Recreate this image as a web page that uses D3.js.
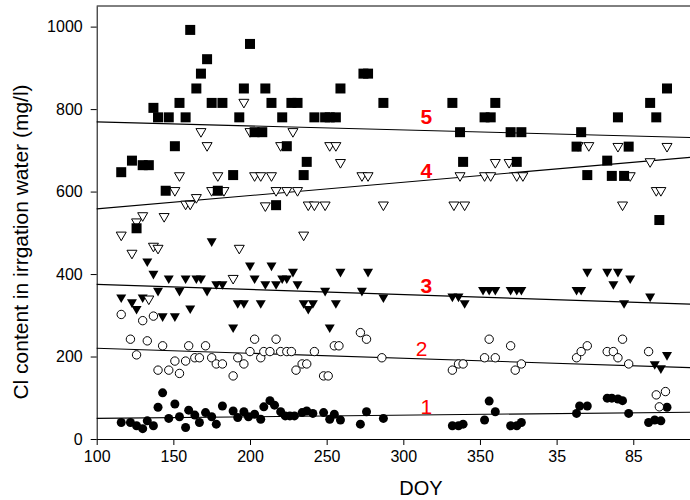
<!DOCTYPE html>
<html>
<head>
<meta charset="utf-8">
<script src="https://cdn.jsdelivr.net/npm/d3@7"></script>
<style>
  html, body { margin: 0; padding: 0; background: #fff; }
  svg { display: block; font-family: Arial, "Liberation Sans", sans-serif; }
</style>
</head>
<body>
<svg id="chart" width="690" height="500"></svg>
<script>
// ---------- DATA ----------
const xTickValues = [100, 150, 200, 250, 300, 350, 400, 450];
const xTickLabels = ["100", "150", "200", "250", "300", "350", "35", "85"];
const yTickValues = [0, 200, 400, 600, 800, 1000];

// Series 1: filled circles
const s1Doy = [116,122,126,130,133,137,140,143,147,151,154,158,160,164,167,171,175,178,182,189,192,196,199,203,207,209,213,216,220,223,226,229,234,237,241,248,252,255,259,272,276,287,332,336,339,353,356,360,370,374,377,413,415,420,433,436,440,443,447,460,464,468,472];
const s1Val = [40,40,32,25,44,32,77,112,50,85,54,28,70,58,40,64,54,36,80,68,52,66,54,60,48,78,93,82,66,56,56,56,64,68,62,64,48,60,46,36,66,50,32,32,36,46,92,66,32,32,40,62,80,80,99,99,97,93,62,40,46,44,77];

// Series 2: open circles
const s2Doy = [116,122,126,130,133,137,140,143,147,151,154,158,160,164,167,171,175,178,182,189,192,196,200,203,207,209,213,217,220,224,227,230,234,237,242,248,251,255,258,272,276,286,332,336,339,353,356,360,370,373,377,413,416,420,433,437,440,443,447,460,465,471,467];
const s2Val = [302,242,204,287,238,298,167,226,167,189,159,189,226,197,197,226,197,182,182,153,197,182,212,242,197,212,212,242,212,212,212,167,182,182,212,153,153,226,226,258,242,197,167,182,182,197,242,197,226,167,182,197,212,226,212,212,197,242,182,212,107,115,78];

// Series 3: filled down-triangles
const s3Doy = [116,123,126,130,133,137,140,143,147,151,154,158,161,165,168,172,175,178,182,189,192,196,200,203,207,210,214,217,221,224,228,231,235,238,241,249,252,256,259,273,277,287,332,336,340,352,356,360,370,374,377,413,416,420,433,437,440,444,448,461,472,464,468];
const s3Val = [341,329,313,341,428,398,357,295,387,295,357,387,314,387,387,357,477,373,373,268,327,327,418,387,327,373,418,373,387,387,403,373,327,313,327,357,268,327,403,357,403,341,343,343,327,359,359,359,359,359,359,359,359,403,403,373,403,327,387,343,201,179,169];

// Series 4: open down-triangles
const s4Doy = [116,123,126,130,134,137,140,144,151,154,158,161,165,168,172,175,179,183,189,193,196,200,203,207,210,214,217,220,224,228,231,235,238,242,249,252,256,259,273,277,287,333,337,340,353,357,360,369,374,378,414,421,440,472,461,448,465,468,443];
const s4Val = [492,448,524,539,337,465,460,537,600,636,567,567,583,743,709,600,636,600,387,460,814,743,636,636,563,636,600,709,600,743,600,492,565,565,565,709,709,668,636,636,565,565,636,565,636,636,668,668,636,636,709,709,707,707,670,636,600,600,565];

// Series 5: filled squares
const s5Doy = [116,123,126,130,134,137,140,145,147,151,154,158,161,165,168,172,175,179,182,189,193,196,200,203,208,210,214,217,221,224,227,231,235,237,242,249,252,256,259,274,277,287,332,337,339,353,357,360,370,374,377,413,416,420,433,436,440,444,447,461,465,467,472];
const s5Val = [647,675,511,664,664,803,780,602,780,710,815,780,992,850,886,921,815,602,815,640,780,850,958,744,744,850,815,567,780,710,815,815,640,672,780,780,780,780,850,886,886,815,815,744,672,780,780,815,744,672,744,709,744,640,675,638,780,638,709,815,780,531,850];

// Regression lines: value at DOY 100 and at DOY 487
const trendStart = [50, 220, 375, 558, 769];
const trendEnd   = [65, 173, 327, 683, 731];
const trendLabels = ["1", "2", "3", "4", "5"];
const labelDoy = [315, 312, 315, 315, 315];
const labelVal = [80, 220, 373, 652, 783];

// ---------- CHART ----------
const svg = d3.select("#chart");
const mLeft = 96.7, mRight = 690, mTop = 6, mBottom = 439;

const x = d3.scaleLinear().domain([100, 487]).range([mLeft, mRight]);
const y = d3.scaleLinear().domain([0, 1050]).range([mBottom, mTop]);

// top frame line
svg.append("line")
  .attr("x1", mLeft).attr("x2", mRight).attr("y1", mTop).attr("y2", mTop)
  .attr("stroke", "#000").attr("stroke-width", 1);

// axes
const xAxis = d3.axisBottom(x)
  .tickValues(xTickValues)
  .tickFormat((d, i) => xTickLabels[i])
  .tickSizeInner(6).tickSizeOuter(0).tickPadding(6);
const gx = svg.append("g").attr("transform", `translate(0,${mBottom})`).call(xAxis);
gx.selectAll("text").attr("font-size", 16).attr("fill", "#000").attr("font-family", "Arial, 'Liberation Sans', sans-serif");
gx.selectAll("line,path").attr("stroke", "#000");

const yAxis = d3.axisLeft(y)
  .tickValues(yTickValues)
  .tickFormat(d3.format("d"))
  .tickSizeInner(6).tickSizeOuter(0).tickPadding(8);
const gy = svg.append("g").attr("transform", `translate(${mLeft},0)`).call(yAxis);
gy.selectAll("text").attr("font-size", 16).attr("fill", "#000").attr("font-family", "Arial, 'Liberation Sans', sans-serif");
gy.selectAll("line,path").attr("stroke", "#000");

// axis titles
svg.append("text")
  .attr("x", 421).attr("y", 495)
  .attr("text-anchor", "middle")
  .attr("font-size", 20)
  .text("DOY");

svg.append("text")
  .attr("transform", `translate(28,242) rotate(-90)`)
  .attr("text-anchor", "middle")
  .attr("font-size", 21)
  .text("Cl content in irrgation water (mg/l)");

// trend lines
const trendG = svg.append("g");
trendStart.forEach((s, i) => {
  trendG.append("line")
    .attr("x1", x(100)).attr("y1", y(s))
    .attr("x2", x(487)).attr("y2", y(trendEnd[i]))
    .attr("stroke", "#000").attr("stroke-width", 1.1);
});

// markers
const zip = (a, b) => a.map((d, i) => ({ doy: d, val: b[i] }));
const tri = "M-5,-4L5,-4L0,4.6Z";

svg.append("g").selectAll("circle").data(zip(s1Doy, s1Val)).join("circle")
  .attr("cx", d => x(d.doy)).attr("cy", d => y(d.val)).attr("r", 4.5)
  .attr("fill", "#000");

svg.append("g").selectAll("circle").data(zip(s2Doy, s2Val)).join("circle")
  .attr("cx", d => x(d.doy)).attr("cy", d => y(d.val)).attr("r", 4.2)
  .attr("fill", "#fff").attr("stroke", "#000").attr("stroke-width", 1);

svg.append("g").selectAll("path").data(zip(s3Doy, s3Val)).join("path")
  .attr("d", tri)
  .attr("transform", d => `translate(${x(d.doy)},${y(d.val)})`)
  .attr("fill", "#000");

svg.append("g").selectAll("path").data(zip(s4Doy, s4Val)).join("path")
  .attr("d", tri)
  .attr("transform", d => `translate(${x(d.doy)},${y(d.val)})`)
  .attr("fill", "#fff").attr("stroke", "#000").attr("stroke-width", 1);

svg.append("g").selectAll("rect").data(zip(s5Doy, s5Val)).join("rect")
  .attr("x", d => x(d.doy) - 5).attr("y", d => y(d.val) - 5)
  .attr("width", 10).attr("height", 10)
  .attr("fill", "#000");

// series labels
svg.append("g").selectAll("text").data(trendLabels).join("text")
  .attr("x", (d, i) => x(labelDoy[i]))
  .attr("y", (d, i) => y(labelVal[i]))
  .attr("dy", "0.36em")
  .attr("text-anchor", "middle")
  .attr("font-size", 21)
  .attr("font-weight", (d, i) => i >= 2 ? "bold" : "normal")
  .attr("fill", "#ff0000")
  .text(d => d);
</script>
</body>
</html>
